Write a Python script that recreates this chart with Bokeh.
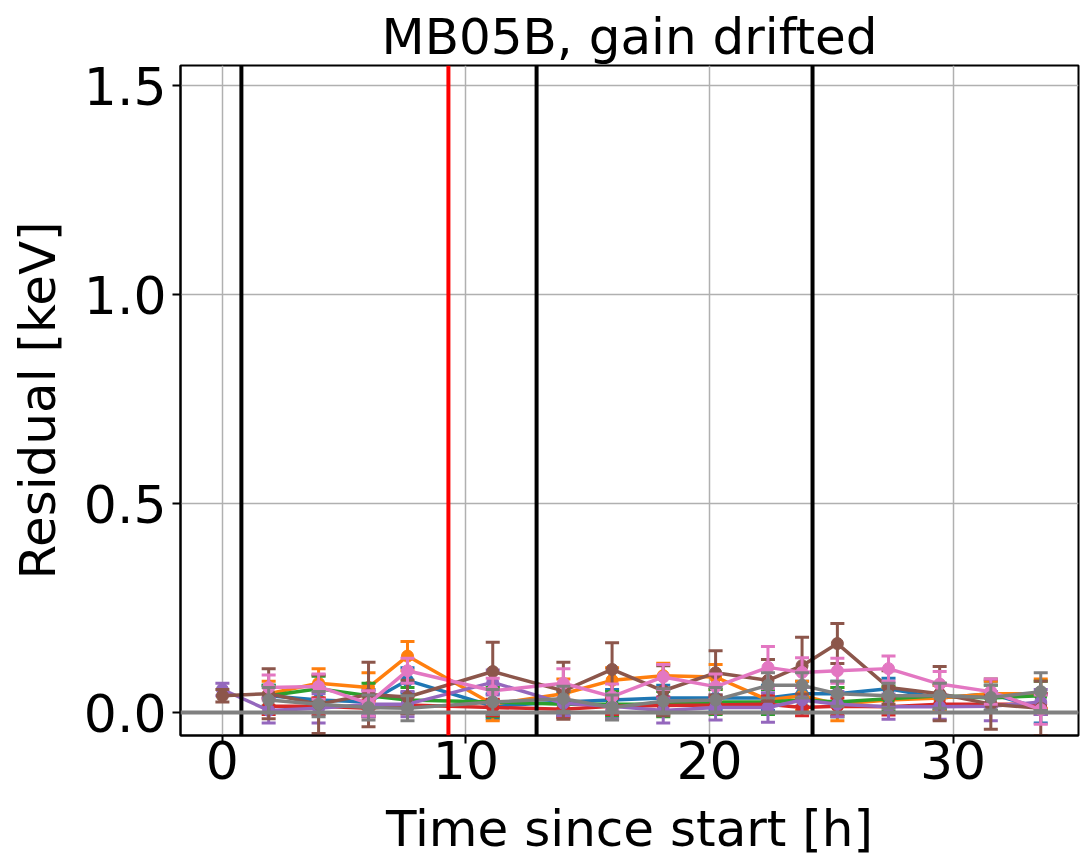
from bokeh.plotting import figure
from bokeh.models import Range1d, FixedTicker, PrintfTickFormatter, Span
from bokeh.embed import file_html
from bokeh.resources import INLINE

# ---- data ----
times = [0, 1.9, 3.95, 6.0, 7.6, 11.1, 14.0, 16.0, 18.1, 20.25, 22.4, 23.8, 25.25, 27.35, 29.45, 31.55, 33.6]

blue = [None, 0.040, 0.030, 0.025, 0.077, 0.015, 0.025, 0.030, 0.035, 0.035, 0.035, 0.045, 0.045, 0.057, 0.035, 0.045, 0.010]
orange = [None, 0.045, 0.070, 0.060, 0.135, 0.020, 0.045, 0.077, 0.088, 0.085, 0.030, 0.040, 0.020, 0.030, 0.035, 0.045, 0.045]
green = [None, 0.040, 0.057, 0.040, 0.030, 0.025, 0.020, 0.020, 0.020, 0.025, 0.025, 0.030, 0.025, 0.033, 0.040, 0.035, 0.040]
red = [None, 0.015, 0.015, 0.010, 0.018, 0.012, 0.008, 0.015, 0.017, 0.018, 0.020, 0.012, 0.015, 0.014, 0.020, 0.020, 0.020]
purple = [0.055, 0.005, 0.010, 0.020, 0.020, 0.072, 0.022, 0.015, 0.005, 0.012, 0.012, 0.030, 0.020, 0.014, 0.014, 0.015, 0.025]
brown = [0.040, 0.045, 0.020, 0.043, 0.037, 0.098, 0.052, 0.103, 0.052, 0.095, 0.077, 0.112, 0.165, 0.060, 0.045, 0.020, 0.010]
pink = [None, 0.060, 0.062, 0.022, 0.100, 0.052, 0.070, 0.038, 0.085, 0.062, 0.108, 0.096, 0.100, 0.105, 0.068, 0.050, 0.007]
gray = [None, 0.030, 0.020, 0.012, 0.010, 0.025, 0.033, 0.012, 0.027, 0.030, 0.065, 0.065, 0.045, 0.040, 0.040, 0.036, 0.050]

blue_err = [None, 0.025, 0.030, 0.030, 0.030, 0.030, 0.030, 0.025, 0.030, 0.030, 0.030, 0.030, 0.030, 0.025, 0.030, 0.030, 0.035]
orange_err = [None, 0.030, 0.035, 0.035, 0.035, 0.040, 0.035, 0.030, 0.030, 0.030, 0.030, 0.035, 0.040, 0.030, 0.030, 0.030, 0.035]
green_err = [None, 0.025, 0.030, 0.030, 0.030, 0.035, 0.030, 0.030, 0.030, 0.030, 0.030, 0.030, 0.035, 0.030, 0.030, 0.030, 0.035]
red_err = [None, 0.020, 0.020, 0.020, 0.020, 0.020, 0.020, 0.020, 0.020, 0.020, 0.020, 0.020, 0.020, 0.020, 0.020, 0.020, 0.025]
purple_err = [0.015, 0.030, 0.035, 0.030, 0.030, 0.030, 0.030, 0.030, 0.030, 0.030, 0.035, 0.030, 0.030, 0.030, 0.030, 0.035, 0.030]
brown_err = [0.015, 0.060, 0.070, 0.077, 0.040, 0.070, 0.068, 0.064, 0.060, 0.053, 0.050, 0.068, 0.048, 0.040, 0.065, 0.060, 0.065]
pink_err = [None, 0.030, 0.030, 0.030, 0.030, 0.030, 0.035, 0.030, 0.030, 0.030, 0.050, 0.035, 0.030, 0.030, 0.030, 0.030, 0.035]
gray_err = [None, 0.030, 0.030, 0.030, 0.030, 0.030, 0.030, 0.030, 0.030, 0.030, 0.030, 0.030, 0.030, 0.030, 0.030, 0.030, 0.045]

series = [
    ("#1f77b4", blue, blue_err),
    ("#ff7f0e", orange, orange_err),
    ("#2ca02c", green, green_err),
    ("#d62728", red, red_err),
    ("#9467bd", purple, purple_err),
    ("#8c564b", brown, brown_err),
    ("#e377c2", pink, pink_err),
    ("#7f7f7f", gray, gray_err),
]

black_lines = [0.78, 12.9, 24.23]
red_lines = [9.28]

title_text = "MB05B, gain drifted"
xlabel = "Time since start [h]"
ylabel = "Residual [keV]"
xticks = [0, 10, 20, 30]
yticks = [0.0, 0.5, 1.0, 1.5]

FONT = "DejaVu Sans"
FS = "50px"

p = figure(width=1081, height=862, output_backend="svg", toolbar_location=None,
           x_range=Range1d(-1.72, 35.15), y_range=Range1d(-0.055, 1.548),
           min_border_left=180, min_border_right=3, min_border_top=65, min_border_bottom=127)

p.title.text = title_text
p.title.align = "center"
p.title.text_font = FONT
p.title.text_font_size = FS
p.title.text_font_style = "normal"
p.title.text_color = "black"
p.title.standoff = 0

for ax, ticks in ((p.xaxis[0], xticks), (p.yaxis[0], yticks)):
    ax.ticker = FixedTicker(ticks=ticks)
    ax.major_label_text_font = FONT
    ax.major_label_text_font_size = "52px"
    ax.major_label_text_color = "black"
    ax.axis_label_text_font = FONT
    ax.axis_label_text_font_size = FS
    ax.axis_label_text_font_style = "normal"
    ax.axis_label_text_color = "black"
    ax.major_tick_out = 8
    ax.major_tick_in = 0
    ax.major_tick_line_width = 2
    ax.major_tick_line_color = "black"
    ax.minor_tick_line_color = None
    ax.axis_line_color = "black"
    ax.axis_line_width = 2

p.yaxis[0].formatter = PrintfTickFormatter(format="%.1f")
p.xaxis[0].axis_label = xlabel
p.yaxis[0].axis_label = ylabel
p.yaxis[0].major_label_standoff = 6
p.yaxis[0].axis_label_standoff = 14
p.xaxis[0].major_label_standoff = -3
p.xaxis[0].axis_label_standoff = 18
p.xaxis[0].axis_label_text_line_height = 0.8

p.outline_line_color = "black"
p.outline_line_width = 2
p.outline_line_alpha = 1
p.xgrid.grid_line_color = "#b0b0b0"
p.ygrid.grid_line_color = "#b0b0b0"
p.xgrid.grid_line_width = 1.5
p.ygrid.grid_line_width = 1.5
p.background_fill_color = "white"
p.border_fill_color = "white"

for xv in black_lines:
    p.add_layout(Span(location=xv, dimension="height", line_color="black", line_width=4))
for xv in red_lines:
    p.add_layout(Span(location=xv, dimension="height", line_color="red", line_width=4))
p.add_layout(Span(location=0, dimension="width", line_color="#808080", line_width=4))

for color, vals, errs in series:
    xs = [t for t, v in zip(times, vals) if v is not None]
    ys = [v for v in vals if v is not None]
    es = [e for e, v in zip(errs, vals) if v is not None]
    lo = [y - e for y, e in zip(ys, es)]
    hi = [y + e for y, e in zip(ys, es)]
    p.line(xs, ys, line_color=color, line_width=3.5)
    p.segment(x0=xs, y0=lo, x1=xs, y1=hi, line_color=color, line_width=3)
    p.scatter(xs, lo, marker="dash", size=14, line_color=color, line_width=3)
    p.scatter(xs, hi, marker="dash", size=14, line_color=color, line_width=3)
    p.scatter(xs, ys, marker="circle", size=12, fill_color=color, line_color=color)

open("out.html", "w").write(file_html(p, INLINE))
